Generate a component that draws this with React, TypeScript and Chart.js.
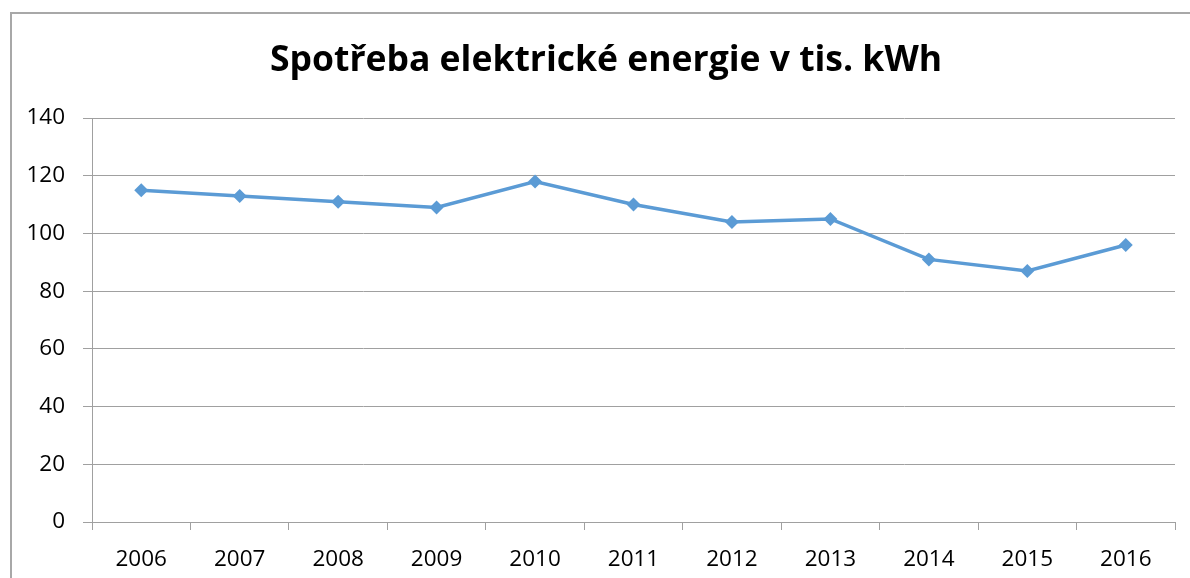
import React, { useEffect, useRef } from "react";
import { Chart, registerables } from "chart.js";

Chart.register(...registerables);

const titleText = "Spotřeba elektrické energie v tis. kWh";
const years = ["2006", "2007", "2008", "2009", "2010", "2011", "2012", "2013", "2014", "2015", "2016"];
const consumption = [115, 113, 111, 109, 118, 110, 104, 105, 91, 87, 96];
const yMin = 0;
const yMax = 140;
const yStep = 20;

const FONT = "'Open Sans', 'Liberation Sans', sans-serif";
const GRID = "#a0a0a0";
const LINE = "#5B9BD5";

const titlePlugin = {
  id: "customTitle",
  afterDraw(chart: any) {
    const ctx = chart.ctx;
    ctx.save();
    ctx.font = `bold 35.5px ${FONT}`;
    ctx.fillStyle = "#000";
    ctx.textAlign = "center";
    ctx.textBaseline = "middle";
    ctx.fillText(titleText, 606, 61);
    ctx.restore();
  },
};

export default function App() {
  const ref = useRef<HTMLCanvasElement | null>(null);

  useEffect(() => {
    if (!ref.current) return;
    const chart = new Chart(ref.current, {
      type: "line",
      data: {
        labels: years,
        datasets: [
          {
            label: titleText,
            data: consumption,
            borderColor: LINE,
            backgroundColor: LINE,
            borderWidth: 3.5,
            pointStyle: "rectRot",
            pointRadius: 7,
            pointBorderWidth: 0,
            pointBackgroundColor: LINE,
            tension: 0,
            fill: false,
          },
        ],
      },
      plugins: [titlePlugin],
      options: {
        responsive: false,
        animation: false,
        layout: { padding: { left: 0, right: 15, top: 118, bottom: 0 } },
        plugins: {
          legend: { display: false },
          tooltip: { enabled: false },
          title: { display: false },
        },
        scales: {
          x: {
            offset: true,
            grid: {
              offset: true,
              drawOnChartArea: false,
              drawTicks: true,
              tickLength: 8,
              color: GRID,
              lineWidth: 1,
            },
            border: { display: true, color: GRID, width: 1 },
            ticks: {
              color: "#000",
              font: { family: FONT, size: 22.5 },
              padding: 16,
              maxRotation: 0,
              autoSkip: false,
            },
            afterFit: (scale: any) => {
              scale.height = 56;
            },
          },
          y: {
            min: yMin,
            max: yMax,
            grid: {
              color: GRID,
              lineWidth: 1,
              drawTicks: true,
              tickLength: 9,
            },
            border: { display: true, color: GRID, width: 1 },
            ticks: {
              stepSize: yStep,
              color: "#000",
              font: { family: FONT, size: 22.5 },
              padding: 18,
            },
            afterFit: (scale: any) => {
              scale.width = 92;
            },
          },
        },
      },
    });
    return () => chart.destroy();
  }, []);

  return (
    <div style={{ position: "fixed", left: 0, top: 0, width: 1190, height: 578, background: "#fff", overflow: "hidden" }}>
      <canvas ref={ref} width={1190} height={578} style={{ position: "absolute", left: 0, top: 0 }} />
      <div
        style={{
          position: "absolute",
          left: 10,
          top: 12,
          width: 1220,
          height: 620,
          border: "2px solid #a8a8a8",
          boxSizing: "border-box",
          pointerEvents: "none",
        }}
      />
    </div>
  );
}
